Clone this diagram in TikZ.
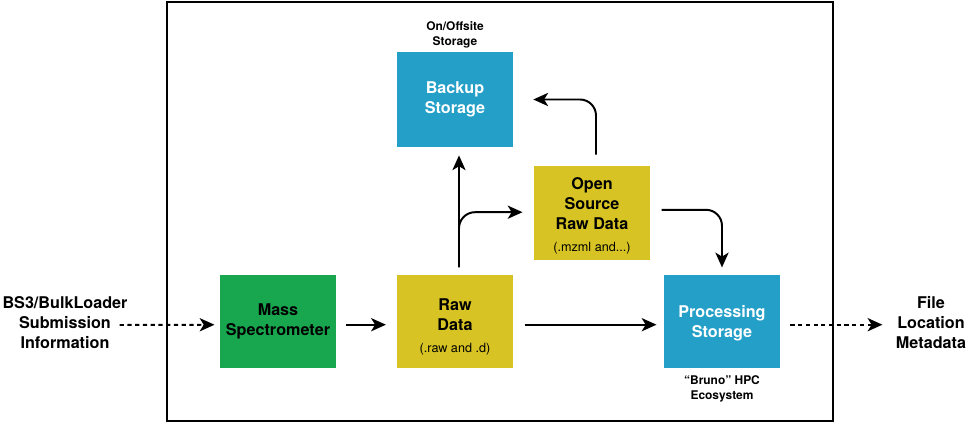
\documentclass[tikz,border=0pt]{standalone}
\usepackage{fontspec}
\setmainfont{TeX Gyre Heros}
\usetikzlibrary{arrows.meta}
\definecolor{msgreen}{HTML}{18A64E}
\definecolor{rawyellow}{HTML}{D7C424}
\definecolor{storeblue}{HTML}{249FC7}
\def\subtxt#1{{\fontsize{9}{10}\selectfont\mdseries #1}}

\tikzset{
  box/.style={minimum width=2.9cm, minimum height=2.33cm, inner sep=0pt, align=center,
    font=\fontsize{11.5}{14}\selectfont\bfseries},
  lbl/.style={inner sep=0pt, align=center, font=\fontsize{8.5}{10.5}\selectfont\bfseries},
  outer/.style={inner sep=0pt, align=center, font=\fontsize{11.5}{14.2}\selectfont\bfseries},
  arr/.style={line width=1.4pt, -{Stealth[length=0.37cm, width=0.33cm, inset=0.1cm]}},
  dasharr/.style={arr, dash pattern=on 3pt off 2.5pt}
}

\begin{document}
\begin{tikzpicture}[x=0.025cm, y=-0.025cm]
		%%%%% START %%%%%
		\useasboundingbox (0, 0) rectangle (968, 423);
		\draw[line width=1.4pt] (167, 2) rectangle (833, 421);
		
		\node[box, fill=msgreen] (mass) at (278, 321.5) {Mass\\Spectrometer};
		\node[box, fill=rawyellow] (raw) at (455, 321.5) {\rule{0pt}{16pt}Raw\\Data\\[2pt]\subtxt{(.raw and .d)}};
		\node[box, fill=storeblue, text=white] (proc) at (722, 321.5) {\rule{0pt}{11pt}Processing\\Storage};
		\node[box, fill=storeblue, text=white, minimum height=2.38cm] (backup) at (455, 99.5) {Backup\\Storage};
		\node[box, fill=rawyellow, minimum height=2.35cm] (open) at (592, 213) {\rule{0pt}{13pt}Open\\Source\\Raw Data\\[2pt]\subtxt{(.mzml and...)}};
		
		\node[lbl] (site) at (455, 35) {On/Offsite\\Storage};
		\node[lbl] (bruno) at (722, 388.5) {“Bruno” HPC\\Ecosystem};
		
		\node[outer] (bs3) at (65, 323) {BS3/BulkLoader\\Submission\\Information};
		\node[outer] (file) at (931, 323) {File\\Location\\Metadata};
		
		% inputs and outputs
		\draw[dasharr, shorten >=0.13cm] ([xshift=-0.2cm, yshift=-0.05cm]bs3.east) -- ([yshift=-0.08cm]mass.west);
		\draw[dasharr, shorten <=0.25cm, shorten >=0.33cm] ([yshift=-0.08cm]proc.east) -- ([yshift=-0.08cm]file.west |- proc.east);
		
		% main flow
		\draw[arr, shorten <=0.25cm, shorten >=0.27cm] ([yshift=-0.08cm]mass.east) -- ([yshift=-0.08cm]raw.west);
		\draw[arr, shorten <=0.28cm, shorten >=0.18cm] ([yshift=-0.08cm]raw.east) -- ([yshift=-0.08cm]proc.west);
		\draw[arr, shorten <=0.18cm, shorten >=0.2cm] ([xshift=0.1cm]raw.north) -- ([xshift=0.1cm]backup.south);
		\draw[arr, rounded corners=0.4cm, shorten <=0.18cm, shorten >=0.28cm] ([xshift=0.1cm]raw.north) |- ([yshift=0.02cm]open.west);
		\draw[arr, rounded corners=0.4cm, shorten <=0.28cm, shorten >=0.5cm] ([xshift=0.1cm]open.north) |- (backup.east);
		\draw[arr, rounded corners=0.4cm, shorten <=0.28cm, shorten >=0.18cm] ([yshift=0.08cm]open.east) -| (proc.north);
		
		%%%%% END %%%%%
	\end{tikzpicture}
\end{document}
